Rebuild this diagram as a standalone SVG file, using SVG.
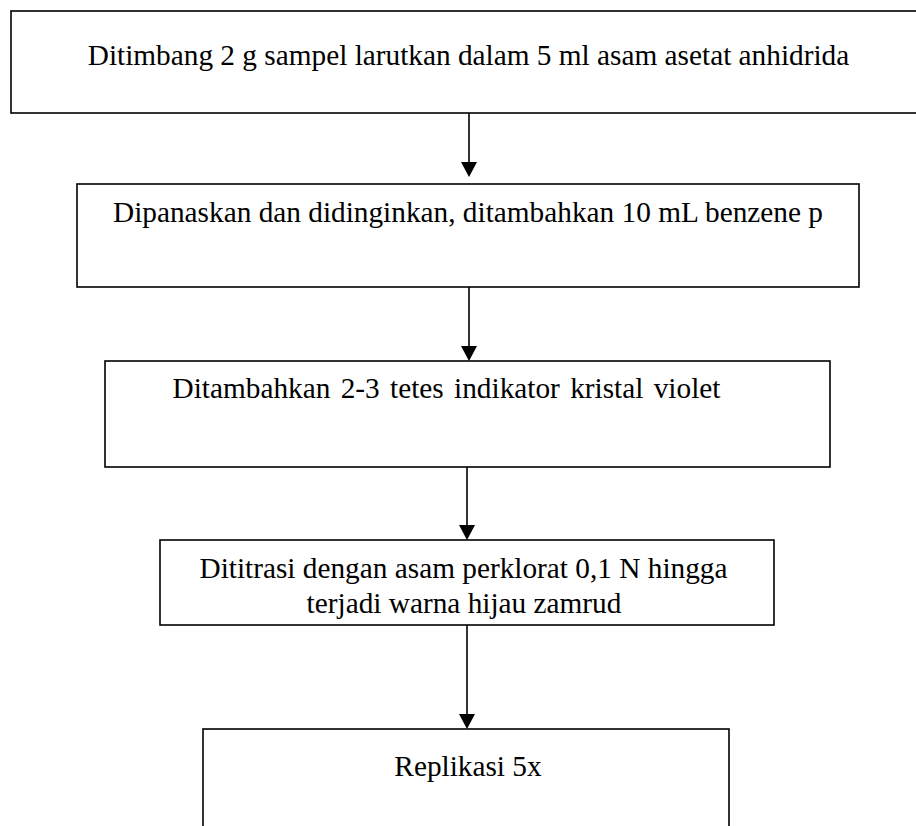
<svg xmlns="http://www.w3.org/2000/svg" width="916" height="826" viewBox="0 0 916 826">
<style>
.box{fill:#fff;stroke:#000;stroke-width:1.6}
.t{font-family:"Liberation Serif","Times New Roman",serif;font-size:29.3px;fill:#000;text-anchor:middle}
.c{stroke:#000;stroke-width:1.6;fill:none}
</style>
<rect width="916" height="826" fill="#fff"/>
<g id="node1"><rect class="box" x="11" y="11" width="916" height="102"/><text class="t" x="468.5" y="65">Ditimbang 2 g sampel larutkan dalam 5 ml asam asetat anhidrida</text></g>
<g id="node2"><rect class="box" x="77" y="184" width="782" height="103"/><text class="t" x="468" y="222">Dipanaskan dan didinginkan, ditambahkan 10 mL benzene p</text></g>
<g id="node3"><rect class="box" x="105" y="361" width="725" height="106"/><text class="t" x="446.5" y="398" word-spacing="3">Ditambahkan 2-3 tetes indikator kristal violet</text></g>
<g id="node4"><rect class="box" x="160" y="540" width="614" height="85"/><text class="t" x="463.5" y="578">Dititrasi dengan asam perklorat 0,1 N hingga</text><text class="t" x="464" y="613">terjadi warna hijau zamrud</text></g>
<g id="node5"><rect class="box" x="203" y="729" width="526" height="120"/><text class="t" x="468" y="776">Replikasi 5x</text></g>
<g id="connectors">
<line class="c" x1="469" y1="113" x2="469" y2="162"/><path d="M461,162 L477,162 L469,177 Z" fill="#000"/>
<line class="c" x1="469" y1="287" x2="469" y2="346"/><path d="M461,346 L477,346 L469,361 Z" fill="#000"/>
<line class="c" x1="467" y1="467" x2="467" y2="525"/><path d="M459,525 L475,525 L467,540 Z" fill="#000"/>
<line class="c" x1="467" y1="625" x2="467" y2="714"/><path d="M459,714 L475,714 L467,729 Z" fill="#000"/>
</g>
</svg>
